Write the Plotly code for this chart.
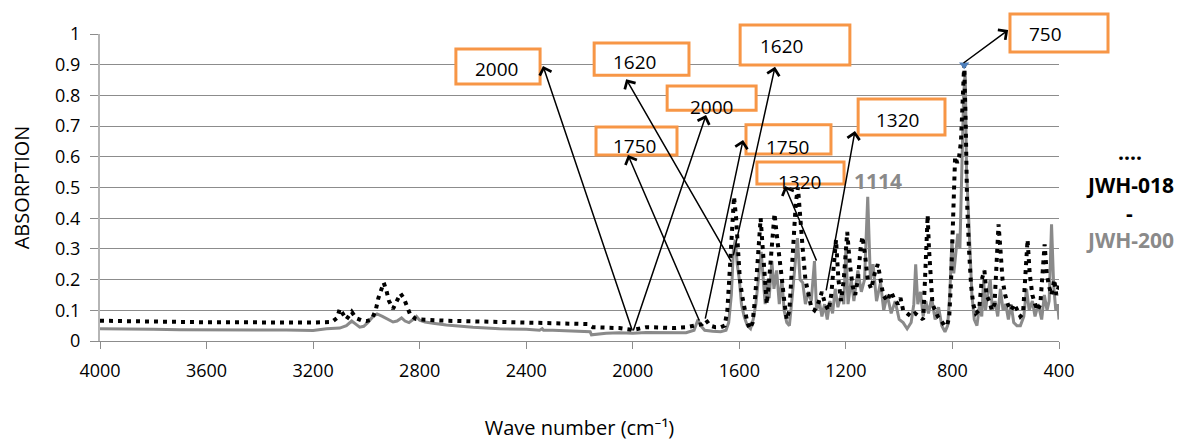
import plotly.graph_objects as go

# ---------------- data ----------------
jwh018_wn = [4000, 3900, 3800, 3700, 3600, 3500, 3400, 3300, 3200, 3130, 3110, 3100, 3090, 3075, 3055, 3040, 3020, 3000,
             2980, 2965, 2955, 2945, 2935, 2925, 2915, 2900, 2885, 2872, 2860, 2850, 2835, 2815, 2800, 2700, 2600, 2500,
             2400, 2300, 2200, 2170, 2150, 2100, 2050, 2000, 1950, 1900, 1850, 1800, 1760, 1740, 1725, 1710, 1690, 1670,
             1655, 1645, 1638, 1630, 1625, 1620, 1612, 1605, 1598, 1590, 1580, 1570, 1560, 1550, 1540, 1530, 1520, 1512,
             1505, 1497, 1490, 1480, 1468, 1460, 1450, 1440, 1430, 1422, 1412, 1405, 1395, 1388, 1380, 1372, 1362, 1352,
             1340, 1330, 1318, 1305, 1290, 1278, 1265, 1255, 1245, 1237, 1228, 1218, 1208, 1195, 1185, 1175, 1165, 1155,
             1145, 1138, 1128, 1118, 1105, 1092, 1080, 1070, 1060, 1045, 1030, 1020, 1005, 995, 985, 970, 955, 940, 925,
             910, 903, 898, 893, 888, 882, 875, 865, 855, 845, 830, 820, 812, 805, 798, 790, 782, 775, 768, 762, 756, 750,
             745, 738, 730, 722, 712, 700, 690, 680, 672, 662, 652, 642, 635, 627, 620, 612, 602, 592, 580, 568, 556, 545,
             535, 525, 518, 510, 500, 490, 480, 470, 462, 454, 446, 438, 428, 418, 410, 400]
jwh018_abs = [0.066, 0.064, 0.062, 0.063, 0.061, 0.061, 0.060, 0.060, 0.060, 0.062, 0.075, 0.105, 0.090, 0.070, 0.095, 0.075,
              0.068, 0.065, 0.070, 0.100, 0.140, 0.170, 0.190, 0.165, 0.130, 0.105, 0.130, 0.155, 0.140, 0.120, 0.085,
              0.072, 0.070, 0.066, 0.063, 0.062, 0.060, 0.058, 0.056, 0.055, 0.045, 0.045, 0.042, 0.036, 0.045, 0.044,
              0.042, 0.045, 0.050, 0.055, 0.068, 0.050, 0.045, 0.045, 0.050, 0.100, 0.200, 0.300, 0.400, 0.470, 0.400,
              0.300, 0.200, 0.150, 0.100, 0.060, 0.040, 0.060, 0.150, 0.300, 0.400, 0.300, 0.200, 0.120, 0.180, 0.300,
              0.415, 0.350, 0.260, 0.200, 0.120, 0.070, 0.100, 0.220, 0.350, 0.450, 0.500, 0.400, 0.300, 0.200, 0.150,
              0.110, 0.100, 0.120, 0.160, 0.120, 0.100, 0.150, 0.250, 0.330, 0.200, 0.130, 0.200, 0.355, 0.250, 0.180,
              0.150, 0.200, 0.300, 0.340, 0.280, 0.200, 0.170, 0.220, 0.250, 0.200, 0.150, 0.130, 0.160, 0.140, 0.120,
              0.140, 0.100, 0.090, 0.080, 0.090, 0.080, 0.070, 0.200, 0.350, 0.410, 0.300, 0.200, 0.120, 0.100, 0.080,
              0.070, 0.050, 0.050, 0.080, 0.200, 0.400, 0.600, 0.580, 0.600, 0.650, 0.800, 0.900, 0.700, 0.450, 0.300,
              0.180, 0.120, 0.090, 0.100, 0.200, 0.230, 0.150, 0.130, 0.100, 0.120, 0.250, 0.380, 0.300, 0.200, 0.150,
              0.120, 0.100, 0.120, 0.100, 0.080, 0.090, 0.220, 0.330, 0.220, 0.150, 0.120, 0.100, 0.120, 0.220, 0.315,
              0.220, 0.180, 0.150, 0.200, 0.150, 0.180]

jwh200_wn = [4000, 3900, 3800, 3700, 3600, 3500, 3400, 3300, 3200, 3150, 3100, 3075, 3055, 3040, 3025, 3010, 2995, 2975,
             2960, 2940, 2920, 2900, 2885, 2868, 2855, 2840, 2825, 2812, 2800, 2780, 2750, 2700, 2600, 2500, 2400, 2350,
             2340, 2335, 2300, 2200, 2160, 2155, 2100, 2050, 2000, 1950, 1900, 1850, 1800, 1770, 1755, 1745, 1730, 1700,
             1670, 1650, 1640, 1630, 1622, 1615, 1608, 1600, 1592, 1582, 1570, 1558, 1548, 1538, 1528, 1518, 1510, 1503,
             1495, 1488, 1478, 1470, 1460, 1450, 1440, 1432, 1422, 1412, 1402, 1392, 1382, 1372, 1362, 1352, 1340, 1330,
             1318, 1310, 1300, 1290, 1280, 1270, 1260, 1250, 1240, 1230, 1215, 1208, 1200, 1192, 1180, 1170, 1155, 1142,
             1130, 1118, 1108, 1098, 1085, 1070, 1058, 1045, 1030, 1015, 1000, 985, 970, 955, 945, 938, 930, 920, 910,
             900, 890, 878, 865, 852, 840, 828, 818, 810, 802, 795, 788, 780, 772, 765, 758, 752, 747, 742, 735, 727,
             718, 708, 698, 690, 683, 676, 668, 658, 650, 640, 630, 620, 610, 600, 590, 580, 570, 558, 545, 532, 522,
             512, 500, 490, 478, 465, 455, 445, 437, 428, 420, 412, 405, 400]
jwh200_abs = [0.040, 0.040, 0.038, 0.037, 0.036, 0.037, 0.036, 0.036, 0.034, 0.040, 0.042, 0.050, 0.065, 0.055, 0.045,
              0.048, 0.060, 0.080, 0.088, 0.080, 0.070, 0.062, 0.065, 0.075, 0.065, 0.060, 0.070, 0.080, 0.068, 0.062,
              0.058, 0.052, 0.045, 0.040, 0.038, 0.035, 0.040, 0.035, 0.035, 0.032, 0.030, 0.020, 0.025, 0.027, 0.025,
              0.028, 0.027, 0.026, 0.027, 0.035, 0.070, 0.050, 0.035, 0.032, 0.030, 0.035, 0.060, 0.150, 0.300, 0.330,
              0.250, 0.200, 0.120, 0.080, 0.050, 0.040, 0.070, 0.120, 0.200, 0.290, 0.200, 0.120, 0.200, 0.140, 0.260,
              0.170, 0.230, 0.120, 0.200, 0.100, 0.060, 0.050, 0.140, 0.250, 0.335, 0.200, 0.190, 0.120, 0.160, 0.130,
              0.260, 0.100, 0.130, 0.080, 0.120, 0.070, 0.130, 0.090, 0.170, 0.110, 0.160, 0.120, 0.300, 0.120, 0.200,
              0.130, 0.230, 0.160, 0.200, 0.470, 0.200, 0.250, 0.130, 0.190, 0.100, 0.150, 0.090, 0.130, 0.070, 0.060,
              0.040, 0.060, 0.120, 0.250, 0.120, 0.160, 0.080, 0.130, 0.090, 0.140, 0.070, 0.110, 0.050, 0.030, 0.050,
              0.150, 0.330, 0.220, 0.280, 0.350, 0.300, 0.550, 0.800, 0.880, 0.550, 0.460, 0.300, 0.150, 0.070, 0.050,
              0.120, 0.080, 0.200, 0.100, 0.150, 0.200, 0.100, 0.130, 0.080, 0.170, 0.100, 0.120, 0.070, 0.120, 0.060,
              0.050, 0.050, 0.080, 0.170, 0.100, 0.130, 0.080, 0.120, 0.070, 0.150, 0.100, 0.130, 0.380, 0.180, 0.100,
              0.120, 0.070]

x_ticks = [4000, 3600, 3200, 2800, 2400, 2000, 1600, 1200, 800, 400]

# label boxes: text, (wn_left, wn_right), (abs_bottom, abs_top), text position (wn, abs)
box_labels = ["2000", "1620", "2000", "1750", "1620", "1750", "1320", "1320", "750"]
box_wn = [(2664, 2348), (2145, 1789), (1871, 1537), (2138, 1834), (1597, 1185), (1575, 1256), (1534, 1207),
          (1154, 828), (584, 216)]
box_abs = [(0.837, 0.951), (0.866, 0.971), (0.752, 0.831), (0.606, 0.697), (0.899, 1.029), (0.609, 0.704),
           (0.511, 0.583), (0.671, 0.788), (0.941, 1.065)]
box_text_pos = [(2510, 0.886), (1992, 0.909), (1706, 0.762), (1995, 0.635), (1443, 0.961), (1421, 0.632),
                (1376, 0.518), (1008, 0.720), (452, 1.000)]

# arrows: tail (peak) -> head (box)
arrow_tail = [(2000, 0.029), (2000, 0.029), (1627, 0.254), (1624, 0.274), (1748, 0.062), (1729, 0.068),
              (1308, 0.257), (1275, 0.160), (764, 0.902)]
arrow_head = [(2337, 0.896), (1725, 0.736), (2025, 0.853), (1466, 0.893), (2018, 0.606), (1586, 0.655),
              (1429, 0.505), (1166, 0.684), (591, 1.013)]

peak_label = ("1114", 1080, 0.521)

# ---------------- figure ----------------
FONT = "Open Sans, Noto Sans, sans-serif"
X0, X1 = 4000, 400


def wx(w):
    return (X0 - w) / (X0 - X1)


fig = go.Figure()
fig.add_trace(go.Scatter(x=jwh200_wn, y=jwh200_abs, mode="lines", name="JWH-200",
                         line=dict(color="#8a8a8a", width=3), showlegend=False))
fig.add_trace(go.Scatter(x=jwh018_wn, y=jwh018_abs, mode="lines", name="JWH-018",
                         line=dict(color="black", width=4, dash="4px,5px"), showlegend=False))

# blue marker at the JWH-018 maximum
imax = max(range(len(jwh018_abs)), key=lambda i: jwh018_abs[i])
fig.add_trace(go.Scatter(x=[jwh018_wn[imax]], y=[jwh018_abs[imax]], mode="markers", showlegend=False,
                         marker=dict(symbol="triangle-down", size=9, color="#4f81bd")))

shapes = []
annotations = []
for lbl, (wl, wr), (ab, at), (tw, ta) in zip(box_labels, box_wn, box_abs, box_text_pos):
    shapes.append(dict(type="rect", xref="paper", yref="paper", x0=wx(wl), x1=wx(wr), y0=ab, y1=at,
                       line=dict(color="#f79646", width=3), fillcolor="white", layer="above"))
    annotations.append(dict(xref="paper", yref="paper", x=wx(tw), y=ta, text=lbl, showarrow=False,
                            xanchor="center", yanchor="middle",
                            font=dict(family=FONT, size=19, color="black")))

for (tw, ta), (hw, ha) in zip(arrow_tail, arrow_head):
    annotations.append(dict(xref="x", yref="y", axref="x", ayref="y", x=hw, y=ha, ax=tw, ay=ta, text="",
                            showarrow=True, arrowhead=4, arrowsize=1.6, arrowwidth=1.5, arrowcolor="black",
                            standoff=0, startstandoff=0))

annotations.append(dict(xref="paper", yref="paper", x=wx(peak_label[1]), y=peak_label[2],
                        text="<b>%s</b>" % peak_label[0], xanchor="center", yanchor="middle",
                        showarrow=False, font=dict(family=FONT, size=21, color="#8a8a8a")))

# legend-like text on the right
legend_items = [("<b>....</b>", 0.616, "black"), ("<b>JWH-018</b>", 0.508, "black"),
                ("<b>-</b>", 0.417, "black"), ("<b>JWH-200</b>", 0.329, "#8a8a8a")]
for txt, yy, col in legend_items:
    annotations.append(dict(xref="paper", yref="paper", x=1.074, y=yy, text=txt, showarrow=False,
                            xanchor="center", yanchor="middle", font=dict(family=FONT, size=21, color=col)))

# the page body adds an 8 px offset, so the figure is drawn 8 px smaller on each side
fig.update_layout(
    width=1175, height=433,
    margin=dict(l=92, r=124, t=26, b=100, autoexpand=False),
    paper_bgcolor="white", plot_bgcolor="white",
    font=dict(family=FONT, size=18, color="black"),
    shapes=shapes, annotations=annotations,
    xaxis=dict(range=[X0, X1], tickvals=x_ticks, ticktext=[str(v) for v in x_ticks], automargin=False,
               ticks="outside", ticklen=7, tickcolor="#8c8c8c", showline=True, linecolor="#8c8c8c", linewidth=1,
               showgrid=False, zeroline=False, tickfont=dict(size=18, family=FONT, color="black"),
               ticklabelstandoff=6,
               title=dict(text="Wave number (cm⁻¹)", standoff=46, font=dict(size=20, family=FONT, color="black"))),
    yaxis=dict(range=[0, 1], dtick=0.1, tick0=0, ticks="outside", ticklen=8, tickcolor="#8c8c8c", automargin=False,
               showline=True, linecolor="#b5b5b5", linewidth=2, showgrid=True, gridcolor="#8c8c8c", gridwidth=1,
               zeroline=False, tickfont=dict(size=18, family=FONT, color="black"), ticklabelstandoff=6,
               title=dict(text="ABSORPTION", standoff=22, font=dict(size=20, family=FONT, color="black"))),
)

fig.write_html("out.html")
